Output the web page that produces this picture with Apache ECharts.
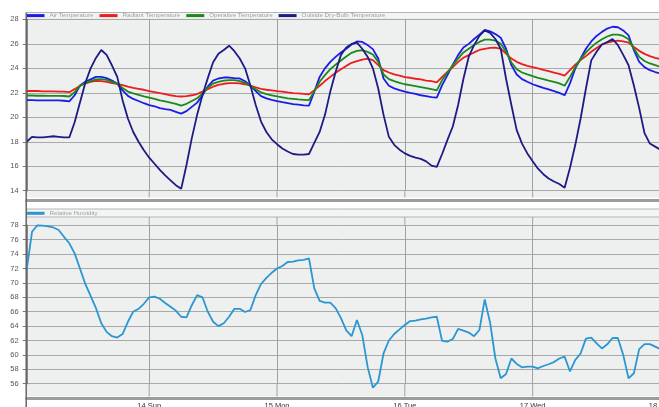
<!DOCTYPE html>
<html><head><meta charset="utf-8">
<script src="https://cdn.jsdelivr.net/npm/echarts@6/dist/echarts.min.js"></script>
<style>html,body{margin:0;padding:0;background:#fff}#c{width:659px;height:407px}</style>
</head><body><div id="c"></div>
<script>
// ---- data (hourly, 13 Sat 01:00 .. 18 Thu 00:00) ----
const dayNames = ['13 Sat', '14 Sun', '15 Mon', '16 Tue', '17 Wed', '18 Thu'];
const tempTicks = [14, 16, 18, 20, 22, 24, 26, 28];
const humTicks = [56, 58, 60, 62, 64, 66, 68, 70, 72, 74, 76, 78];

const airTemp = [
 21.4,21.4,21.38,21.38,21.38,21.38,21.38,21.35,21.3,21.8,22.6,22.9,23.1,23.3,23.3,23.2,23.0,22.75,22.2,21.75,
 21.5,21.33,21.15,21.0,20.9,20.75,20.67,20.6,20.45,20.3,20.5,20.85,21.2,21.8,22.5,23.0,23.17,23.25,23.25,23.2,
 23.17,22.95,22.58,22.14,21.73,21.54,21.43,21.33,21.24,21.16,21.08,21.03,20.97,20.95,22.09,23.3,24.0,24.53,24.94,25.3,
 25.6,25.95,26.2,26.16,25.9,25.57,24.8,23.17,22.58,22.36,22.22,22.09,22.0,21.92,21.8,21.73,21.65,21.6,22.63,23.45,
 24.3,25.08,25.7,26.0,26.4,26.76,27.14,27.03,26.8,26.5,25.6,24.26,23.5,23.12,22.9,22.7,22.55,22.4,22.28,22.14,
 22.0,21.8,22.77,24.0,24.8,25.6,26.2,26.65,26.98,27.25,27.4,27.36,27.1,26.7,25.48,24.53,24.1,23.85,23.7,23.58
];
const radiantTemp = [
 22.15,22.15,22.15,22.12,22.12,22.12,22.1,22.1,22.05,22.3,22.58,22.77,22.9,22.98,22.95,22.9,22.8,22.74,22.63,22.5,
 22.4,22.33,22.25,22.14,22.06,21.98,21.9,21.8,21.73,21.7,21.73,21.8,21.9,22.1,22.3,22.5,22.65,22.74,22.8,22.8,
 22.77,22.7,22.58,22.44,22.33,22.25,22.2,22.14,22.09,22.03,21.98,21.95,21.92,21.87,22.22,22.58,22.96,23.3,23.64,23.93,
 24.2,24.45,24.59,24.72,24.8,24.67,24.26,23.85,23.66,23.5,23.4,23.28,23.23,23.15,23.1,23.0,22.96,22.85,23.3,23.7,
 24.1,24.53,24.86,25.08,25.3,25.5,25.6,25.67,25.7,25.6,25.2,24.8,24.53,24.34,24.2,24.1,24.0,23.88,23.77,23.66,
 23.55,23.4,23.85,24.3,24.67,25.0,25.35,25.67,25.95,26.1,26.2,26.27,26.2,26.1,25.75,25.43,25.18,25.0,24.86,24.75
];
const operativeTemp = [
 21.78,21.78,21.76,21.76,21.75,21.75,21.75,21.74,21.7,22.05,22.55,22.8,22.95,23.1,23.12,23.05,22.9,22.75,22.4,22.1,
 21.95,21.83,21.7,21.6,21.5,21.38,21.3,21.2,21.1,20.95,21.1,21.33,21.55,21.95,22.4,22.75,22.9,23.0,23.03,23.04,
 22.96,22.82,22.58,22.3,22.03,21.9,21.8,21.7,21.63,21.54,21.5,21.46,21.43,21.4,22.14,22.9,23.45,23.93,24.3,24.64,
 24.97,25.27,25.43,25.48,25.35,25.13,24.53,23.5,23.12,22.96,22.82,22.7,22.63,22.55,22.47,22.39,22.3,22.2,23.04,23.66,
 24.26,24.8,25.3,25.6,25.9,26.16,26.35,26.35,26.27,26.0,25.35,24.48,23.93,23.66,23.5,23.36,23.23,23.12,23.0,22.9,
 22.77,22.58,23.3,24.1,24.75,25.3,25.73,26.1,26.38,26.6,26.76,26.76,26.65,26.38,25.62,24.94,24.6,24.4,24.26,24.12
];
const outsideTemp = [
 18.0,18.4,18.35,18.35,18.4,18.45,18.4,18.35,18.35,19.6,21.2,22.8,24.0,24.85,25.5,25.1,24.25,23.3,21.4,19.9,
 18.8,18.0,17.3,16.7,16.2,15.7,15.25,14.85,14.45,14.15,16.1,18.3,20.2,21.8,23.2,24.5,25.2,25.5,25.85,25.4,
 24.8,24.0,22.6,21.0,19.65,18.8,18.2,17.8,17.45,17.2,17.0,16.95,16.95,17.0,17.9,18.8,20.2,22.1,23.7,25.1,
 25.7,26.0,26.1,25.6,24.95,24.0,22.35,20.2,18.4,17.75,17.35,17.05,16.85,16.7,16.6,16.4,16.05,15.95,17.0,18.15,
 19.25,21.0,23.15,24.95,25.9,26.65,27.1,26.9,26.4,25.6,23.15,21.0,18.95,17.85,17.05,16.4,15.8,15.35,15.0,14.75,
 14.55,14.25,15.85,17.75,19.9,22.35,24.65,25.35,25.95,26.15,26.4,25.9,25.1,24.25,22.6,20.75,18.7,17.85,17.6,17.35
];
const humidity = [
 71.8,77.1,78.0,77.95,77.85,77.7,77.35,76.4,75.5,74.1,72.0,69.85,68.2,66.5,64.4,63.2,62.6,62.4,62.9,64.6,
 66.0,66.4,67.1,68.0,68.1,67.8,67.2,66.7,66.15,65.3,65.2,66.9,68.3,68.0,66.0,64.6,64.0,64.4,65.3,66.4,
 66.4,65.96,66.24,68.3,69.85,70.7,71.4,72.0,72.35,72.9,72.95,73.14,73.2,73.4,69.25,67.5,67.26,67.26,66.5,65.1,
 63.4,62.6,64.85,62.77,58.37,55.45,56.3,60.2,62.0,62.9,63.55,64.15,64.7,64.75,64.94,65.04,65.2,65.3,61.94,61.85,
 62.2,63.6,63.37,63.1,62.6,63.46,67.7,64.5,59.5,56.75,57.35,59.5,58.74,58.28,58.37,58.37,58.14,58.46,58.7,59.0,
 59.5,59.76,57.7,59.3,60.2,62.26,62.4,61.6,60.9,61.47,62.35,62.35,60.0,56.75,57.45,60.8,61.5,61.5,61.15,60.8
];

// hourly category labels
const categories = airTemp.map((_, i) => {
  const h = i + 1, d = Math.floor(h / 24), hh = h % 24;
  return hh === 0 ? dayNames[d] : dayNames[d] + ' ' + String(hh).padStart(2, '0') + ':00';
});
const isDay = (idx) => categories[idx].indexOf(':') < 0;

const FONT = 'Liberation Sans';
const GRID_LINE = '#a9a9a9';
const V_LINE = '#a0a0a0';
const colors = { air: '#1c1ce8', rad: '#ee1c1c', op: '#1a8a1a', out: '#1c1c84', hum: '#2a96d2' };

function xAxisCfg(gi, showLabels, offset) {
  return {
    type: 'category', gridIndex: gi, data: categories, boundaryGap: false, offset: offset,
    axisLine: { show: true, lineStyle: { color: '#9c9c9c', width: 3 } },
    axisTick: { show: false },
    axisLabel: { show: showLabels, interval: (idx) => isDay(idx), formatter: (v) => v, margin: 4,
      hideOverlap: false, fontFamily: FONT, fontSize: 7.5, color: '#333' },
    splitLine: { show: true, interval: (idx) => isDay(idx), lineStyle: { color: V_LINE, width: 1 } }
  };
}
function yAxisCfg(gi, ticks) {
  return {
    type: 'value', gridIndex: gi, min: ticks[0], max: ticks[ticks.length - 1], interval: 2,
    axisLine: { show: true, lineStyle: { color: '#666', width: 1.5 } },
    axisTick: { show: true, length: 4, lineStyle: { color: '#777' } },
    axisLabel: { margin: 8, fontFamily: FONT, fontSize: 7.5, color: '#555' },
    splitLine: { show: true, lineStyle: { color: GRID_LINE, width: 1 } }
  };
}
function lineSeries(name, data, color, xi, w) {
  return { name: name, type: 'line', xAxisIndex: xi, yAxisIndex: xi, data: data, symbol: 'none',
    clip: false, lineStyle: { color: color, width: w }, itemStyle: { color: color }, animation: false };
}

const option = {
  animation: false,
  backgroundColor: '#fff',
  grid: [
    { left: 26.7, width: 633.8, top: 19.4, height: 171.3, containLabel: false, outerBoundsMode: 'none' },
    { left: 26.7, width: 633.8, top: 225.3, height: 158.4, containLabel: false, outerBoundsMode: 'none' }
  ],
  xAxis: [xAxisCfg(0, false, 9.1), xAxisCfg(1, true, 14.4)],
  yAxis: [yAxisCfg(0, tempTicks), yAxisCfg(1, humTicks)],
  legend: [
    { left: 26.5, top: 12.6, padding: 0, itemGap: 6, itemWidth: 18, itemHeight: 3, icon: 'rect',
      textStyle: { fontFamily: FONT, fontSize: 6.2, lineHeight: 6, color: '#a0a0a0' },
      data: ['Air Temperature', 'Radiant Temperature', 'Operative Temperature', 'Outside Dry-Bulb Temperature'] },
    { left: 26.5, top: 210.3, padding: 0, itemGap: 6, itemWidth: 18, itemHeight: 3, icon: 'rect',
      textStyle: { fontFamily: FONT, fontSize: 6.2, lineHeight: 6, color: '#a0a0a0' },
      data: ['Relative Humidity'] }
  ],
  series: [
    lineSeries('Air Temperature', airTemp, colors.air, 0, 1.8),
    lineSeries('Radiant Temperature', radiantTemp, colors.rad, 0, 1.8),
    lineSeries('Operative Temperature', operativeTemp, colors.op, 0, 1.8),
    lineSeries('Outside Dry-Bulb Temperature', outsideTemp, colors.out, 0, 1.8),
    lineSeries('Relative Humidity', humidity, colors.hum, 1, 1.8)
  ]
};

const chart = echarts.init(document.getElementById('c'), null, { renderer: 'canvas' });
chart.setOption(option);

// decorations: panel backgrounds, legend strips, gridline extensions (positions derived from the axes)
const dayIdx = categories.map((c, i) => i).filter(isDay);
const px0 = dayIdx.map(i => chart.convertToPixel({ xAxisIndex: 0 }, i));
const px1 = dayIdx.map(i => chart.convertToPixel({ xAxisIndex: 1 }, i));
const topY28 = chart.convertToPixel({ yAxisIndex: 0 }, 28);
const topY14 = chart.convertToPixel({ yAxisIndex: 0 }, 14);
const botY78 = chart.convertToPixel({ yAxisIndex: 1 }, 78);
const botY56 = chart.convertToPixel({ yAxisIndex: 1 }, 56);
const left = chart.convertToPixel({ xAxisIndex: 0 }, 0);
const W = 700;
const P1 = { t: topY28 - 6.9, b: topY14 + 6.8 };
const P2 = { t: botY78 - 16.3, b: botY56 + 12.8 };
const els = [
  { type: 'rect', z: -20, shape: { x: left, y: P1.t, width: W, height: P1.b - P1.t }, style: { fill: '#eef0f0' } },
  { type: 'rect', z: -19, shape: { x: left, y: P1.t, width: W, height: topY28 - P1.t }, style: { fill: '#f3f4f4', stroke: '#b4b4b4', lineWidth: 1 } },
  { type: 'rect', z: -20, shape: { x: left, y: P2.t, width: W, height: P2.b - P2.t }, style: { fill: '#eef0f0' } },
  { type: 'rect', z: -19, shape: { x: left, y: P2.t, width: W, height: 8 }, style: { fill: '#f3f4f4', stroke: '#b4b4b4', lineWidth: 1 } },
  { type: 'line', z: 5, shape: { x1: left - 0.5, y1: P1.t, x2: left - 0.5, y2: P2.t }, style: { stroke: '#666', lineWidth: 1.5 } },
  { type: 'line', z: 5, shape: { x1: left - 0.5, y1: P2.t, x2: left - 0.5, y2: 407 }, style: { stroke: '#666', lineWidth: 1.5 } }
];
px0.forEach(x => els.push({ type: 'line', z: -10, shape: { x1: x, y1: topY14, x2: x, y2: P1.b }, style: { stroke: V_LINE, lineWidth: 1 } }));
px1.forEach(x => {
  els.push({ type: 'line', z: -10, shape: { x1: x, y1: P2.t + 8, x2: x, y2: botY78 }, style: { stroke: V_LINE, lineWidth: 1 } });
  els.push({ type: 'line', z: -10, shape: { x1: x, y1: botY56, x2: x, y2: P2.b }, style: { stroke: V_LINE, lineWidth: 1 } });
});
chart.setOption({ graphic: { elements: els } });
</script>
</body></html>
